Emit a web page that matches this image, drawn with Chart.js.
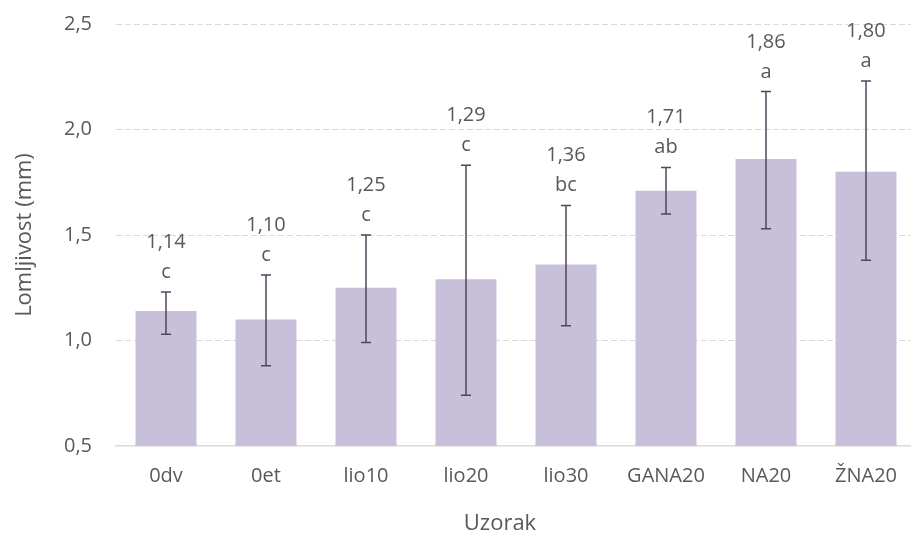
<!DOCTYPE html>
<html lang="hr">
<head>
  <meta charset="UTF-8" />
  <title>Lomljivost</title>
  <script src="https://cdn.jsdelivr.net/npm/chart.js"></script>
  <style>
    html, body {
      margin: 0;
      padding: 0;
      background: #fff;
      overflow: hidden;
    }
    .chart-box {
      width: 916px;
      height: 535px;
    }
  </style>
</head>
<body>
  <div class="chart-box"><canvas id="lomChart"></canvas></div>

  <script>
    const samples = ["0dv", "0et", "lio10", "lio20", "lio30", "GANA20", "NA20", "ŽNA20"];
    const means = [1.14, 1.10, 1.25, 1.29, 1.36, 1.71, 1.86, 1.80];
    const errUpper = [1.23, 1.31, 1.50, 1.83, 1.64, 1.82, 2.18, 2.23];
    const errLower = [1.03, 0.88, 0.99, 0.74, 1.07, 1.60, 1.53, 1.38];
    const letters = ["c", "c", "c", "c", "bc", "ab", "a", "a"];
    const yTicks = [0.5, 1.0, 1.5, 2.0, 2.5];

    const textGrey = "#595959";
    const fontFam = "'Open Sans', sans-serif";

    function fmt(v, d) {
      return v.toFixed(d).replace(".", ",");
    }

    // error bars + value/letter labels
    const errorBarPlugin = {
      id: "errorBars",
      afterDatasetsDraw(chart) {
        const ctx = chart.ctx;
        const y = chart.scales.y;
        const meta = chart.getDatasetMeta(0);
        ctx.save();
        meta.data.forEach((bar, i) => {
          const x = bar.x;
          const top = y.getPixelForValue(errUpper[i]);
          const bot = y.getPixelForValue(errLower[i]);
          ctx.strokeStyle = "#4d4859";
          ctx.lineWidth = 1.5;
          ctx.beginPath();
          ctx.moveTo(x, top); ctx.lineTo(x, bot);
          ctx.moveTo(x - 5, top); ctx.lineTo(x + 5, top);
          ctx.moveTo(x - 5, bot); ctx.lineTo(x + 5, bot);
          ctx.stroke();

          ctx.fillStyle = textGrey;
          ctx.textAlign = "center";
          ctx.textBaseline = "alphabetic";
          ctx.font = "20px " + fontFam;
          ctx.fillText(letters[i], x, top - 14);
          ctx.fillText(fmt(means[i], 2), x, top - 44);
        });

        // x axis title
        const area = chart.chartArea;
        ctx.font = "22px " + fontFam;
        ctx.textBaseline = "middle";
        ctx.fillText("Uzorak", (area.left + area.right) / 2 - 16, 524);
        ctx.restore();
      }
    };

    new Chart(document.getElementById("lomChart"), {
      type: "bar",
      data: {
        labels: samples,
        datasets: [{
          data: means,
          backgroundColor: "#c8bfdb",
          borderWidth: 0,
          categoryPercentage: 1,
          barPercentage: 0.61
        }]
      },
      options: {
        responsive: true,
        maintainAspectRatio: false,
        animation: false,
        layout: { padding: { top: 24, right: 0, bottom: 0, left: 0 } },
        plugins: {
          legend: { display: false },
          tooltip: { enabled: false }
        },
        scales: {
          x: {
            grid: { display: false, drawTicks: false },
            border: { display: true, color: "#d9d9d9", width: 1.5 },
            ticks: {
              color: textGrey,
              font: { family: fontFam, size: 20 },
              padding: 18,
              maxRotation: 0
            },
            afterFit(scale) { scale.height = 89; }
          },
          y: {
            min: 0.5,
            max: 2.5,
            afterBuildTicks(scale) {
              scale.ticks = yTicks.map(v => ({ value: v }));
            },
            grid: {
              drawTicks: false,
              color: ctx => (ctx.tick && ctx.tick.value === 0.5) ? "rgba(0,0,0,0)" : "#d9d9d9",
              lineWidth: 1
            },
            border: { display: false, dash: [6, 3] },
            ticks: {
              color: textGrey,
              font: { family: fontFam, size: 20 },
              padding: 24,
              callback: v => fmt(v, 1)
            },
            title: {
              display: true,
              text: "Lomljivost (mm)",
              color: textGrey,
              font: { family: fontFam, size: 22 },
              padding: { top: 12, bottom: 0 }
            },
            afterFit(scale) {
              scale.width = 116;
              scale.paddingTop = 0;
              scale.paddingBottom = 0;
            }
          }
        }
      },
      plugins: [errorBarPlugin]
    });
  </script>
</body>
</html>
